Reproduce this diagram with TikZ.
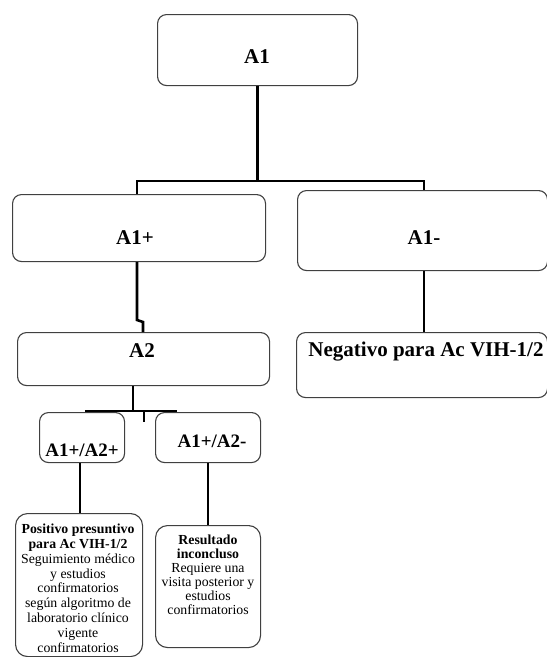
\documentclass[tikz,border=0pt]{standalone}
\usepackage{fontspec}
\setmainfont{Liberation Serif}
\begin{document}
\begin{tikzpicture}[x=1pt,y=-1pt,
  box/.style={draw=black!75, line width=1.1pt, rounded corners=9pt, inner sep=0pt, anchor=north west},
  tallbox/.style={box, rounded corners=12pt},
  conn/.style={line width=2.6pt, black},
  big/.style={font=\fontsize{21}{24}\selectfont\bfseries, inner sep=0pt, anchor=base},
  mid/.style={font=\fontsize{19}{22}\selectfont\bfseries, inner sep=0pt, anchor=base},
  small/.style={font=\fontsize{13.8}{14.8}\selectfont, align=center, inner sep=0pt, anchor=north}]
\useasboundingbox (0,0) rectangle (547,657);

% boxes
\node[box, minimum width=200pt, minimum height=71pt] (a1) at (157,14) {};
\node[box, minimum width=253pt, minimum height=67pt] (a1p) at (12,194) {};
\node[box, minimum width=250pt, minimum height=80pt] (a1m) at (297,190) {};
\node[box, minimum width=252pt, minimum height=53pt] (a2) at (17,332) {};
\node[box, minimum width=251pt, minimum height=65pt] (neg) at (296,332) {};
\node[box, minimum width=85pt, minimum height=50pt] (pp) at (39,412) {};
\node[box, minimum width=105pt, minimum height=50pt] (pm) at (155,412) {};
\node[tallbox, minimum width=127pt, minimum height=143pt] (pos) at (15,513) {};
\node[tallbox, minimum width=105pt, minimum height=122pt] (res) at (155,525) {};

% labels
\node[big] (a1t) at (257,63) {A1};
\node[big] (a1pt) at (135,244) {A1+};
\node[big] (a1mt) at (424,244) {A1-};
\node[big] (a2t) at (142,357) {A2};
\node[big] (negt) at (426,356) {Negativo para Ac VIH-1/2};
\node[mid] (ppt) at (82,456) {A1+/A2+};
\node[mid] (pmt) at (212,447) {A1+/A2-};
\node[small] (post) at (78,524) {\textbf{Positivo presuntivo}\\\textbf{para Ac VIH-1/2}\\Seguimiento médico\\y estudios\\confirmatorios\\según algoritmo de\\laboratorio clínico\\vigente\\confirmatorios};
\node[small, font=\fontsize{13.8}{14}\selectfont] (rest) at (208,535) {\textbf{Resultado}\\\textbf{inconcluso}\\Requiere una\\visita posterior y\\estudios\\confirmatorios};

% connectors
\coordinate (bl) at (137,181);
\coordinate (br) at (424,181);
\draw[conn] (a1.south) |- (bl) -- (bl |- a1p.north);
\draw[conn] (a1.south) |- (br) -- (br |- a1m.north);

\coordinate (jg) at (137,320);
\coordinate (jg2) at (143,322);
\draw[conn] (jg |- a1p.south) -- (jg) -- (jg2) -- (jg2 |- a2.north);

\draw[conn] (a1m.south -| br) -- (br |- neg.north);

\coordinate (hl) at (85,411);
\coordinate (hr) at (177,411);
\coordinate (hd) at (133,411);
\coordinate (stub) at (144,422);
\draw[conn] (hd |- a2.south) -- (hd);
\draw[conn] (hl) -- (hr);
\draw[conn] (stub |- hl) -- (stub);

\coordinate (vl) at (80,0);
\coordinate (vr) at (208,0);
\draw[conn] (vl |- pp.south) -- (vl |- pos.north);
\draw[conn] (vr |- pm.south) -- (vr |- res.north);
\end{tikzpicture}
\end{document}
